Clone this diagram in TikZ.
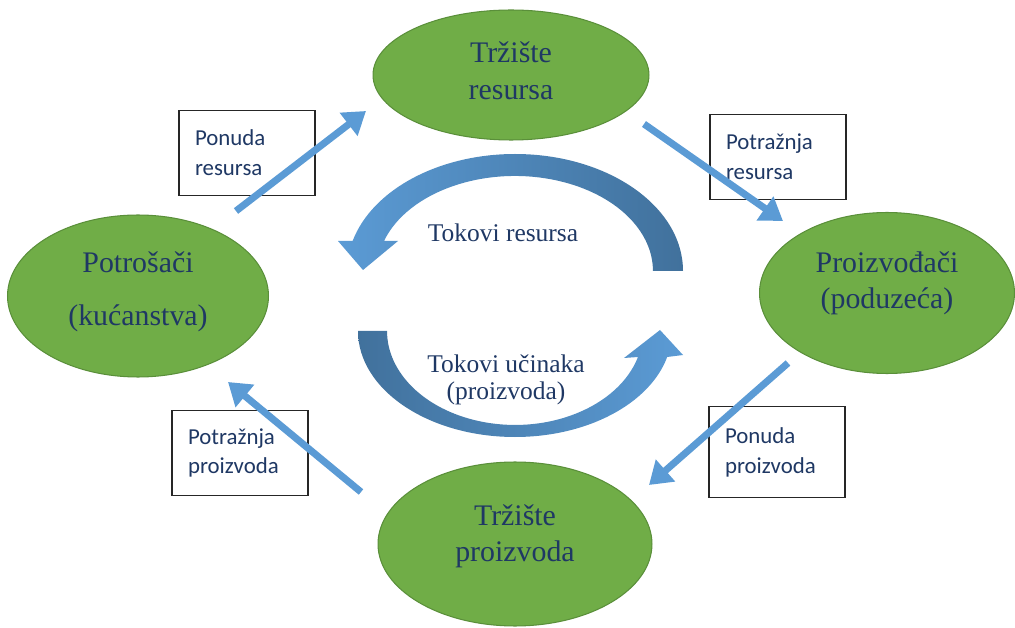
\documentclass[tikz,border=0pt]{standalone}
\usepackage{fontspec}
\setmainfont{Liberation Serif}
\newfontfamily\boxfont{Carlito}
\usetikzlibrary{shapes.geometric,arrows.meta}
\definecolor{zelena}{HTML}{70AD47}
\definecolor{zelenarub}{HTML}{5A8F3A}
\definecolor{plava}{HTML}{5B9BD5}
\definecolor{tamnoplava}{HTML}{41719C}
\definecolor{tekst}{HTML}{1F3864}
\newcommand{\spust}[1]{\rule[-#1]{0pt}{#1}}
\tikzset{
  trziste/.style={ellipse, fill=zelena, draw=zelenarub, line width=0.6pt, text=tekst, align=center, font=\fontsize{17pt}{20.5pt}\selectfont},
  okvir/.style={rectangle, draw=black!85, line width=0.8pt, fill=white, text=tekst, align=left, text width=2.08cm, inner xsep=0.32cm, minimum height=1.7cm, font=\boxfont\fontsize{13pt}{17pt}\selectfont},
  tok/.style={line width=4pt, draw=plava, -{Triangle[length=0.44cm,width=0.56cm,fill=plava]}},
  natpis/.style={text=tekst, align=center, font=\fontsize{14.5pt}{15pt}\selectfont},
}
\begin{document}
\begin{tikzpicture}[x=0.02cm,y=0.02cm]
            \useasboundingbox (0,0) rectangle (1015,-628);

            \shade[left color=plava, right color=tamnoplava] (683,-271) arc[start angle=0, end angle=165.1, x radius=168, y radius=117] -- (338,-241) -- (363,-270) -- (398,-241) -- (384,-241) arc[start angle=161.6, end angle=0, x radius=138, y radius=95] -- cycle;
            \shade[left color=tamnoplava, right color=plava] (358,-331) arc[start angle=180, end angle=345.8, x radius=157, y radius=106] -- (683,-355) -- (660,-330) -- (624,-358) -- (638,-357) arc[start angle=343.9, end angle=180, x radius=128, y radius=94] -- cycle;

            \node[trziste, minimum width=5.52cm, minimum height=2.6cm] (1) at (511,-75) {Tržište\\resursa\spust{5pt}};
            \node[trziste, minimum width=5.1cm, minimum height=3.22cm] (2) at (887,-293) {Proizvođači\\(poduzeća)\spust{15pt}};
            \node[trziste, minimum width=5.48cm, minimum height=3.28cm] (3) at (515,-544) {Tržište\\proizvoda\spust{12.7pt}};
            \node[trziste, minimum width=5.22cm, minimum height=3.24cm] (4) at (138,-296) {Potrošači\\[10pt](kućanstva)\spust{8.3pt}};

            \node[okvir] (5) at (247,-153) {Ponuda\\resursa};
            \node[okvir] (6) at (778,-157) {Potražnja\\resursa};
            \node[okvir, minimum height=1.82cm] (7) at (777,-452) {Ponuda\\proizvoda};
            \node[okvir] (8) at (240,-453) {Potražnja\\proizvoda};

            \node[natpis] (17) at (503,-233) {Tokovi resursa};
            \node[natpis] (18) at (506,-380) {Tokovi učinaka\\(proizvoda)};

            \coordinate (9) at (236,-211);
            \coordinate (10) at (366,-111);
            \coordinate (11) at (644,-124);
            \coordinate (12) at (783,-221);
            \coordinate (13) at (788,-363);
            \coordinate (14) at (649,-485);
            \coordinate (15) at (361,-492);
            \coordinate (16) at (228,-382);

            \foreach \a/\b in {9/10,11/12,13/14,15/16}
            \draw[tok] (\a) -- (\b);

        \end{tikzpicture}
\end{document}
